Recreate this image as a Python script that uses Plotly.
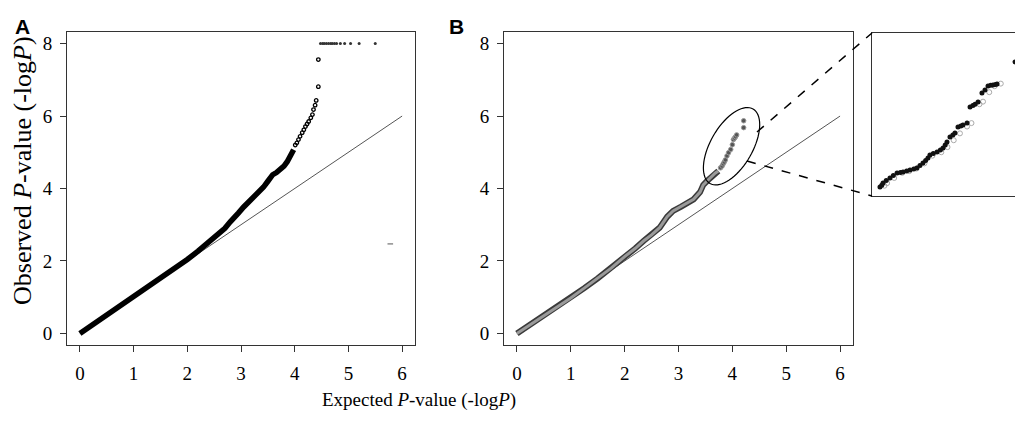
import math
import plotly.graph_objects as go

# page body has an 8px margin: figure is drawn from (8,8)
OFF = 8
W, H = 1015, 418

# ---------------- data ----------------
# Panel A: QQ curve (dense part) and sparse tail
a_curve_x = [0, 0.25, 0.5, 0.75, 1.0, 1.25, 1.5, 1.75, 2.0, 2.2, 2.37, 2.55, 2.7, 2.8, 2.87, 2.95, 3.05, 3.15, 3.24, 3.33, 3.42, 3.5, 3.55, 3.59, 3.66, 3.74, 3.8, 3.86, 3.92, 3.98]
a_curve_y = [0, 0.25, 0.5, 0.76, 1.01, 1.27, 1.53, 1.78, 2.04, 2.27, 2.49, 2.7, 2.9, 3.08, 3.22, 3.32, 3.49, 3.63, 3.77, 3.9, 4.04, 4.2, 4.32, 4.38, 4.44, 4.52, 4.62, 4.74, 4.9, 5.07]
a_tail_x = [4.01, 4.04, 4.07, 4.1, 4.14, 4.17, 4.2, 4.23, 4.26, 4.3, 4.33, 4.35, 4.38, 4.40, 4.44, 4.44]
a_tail_y = [5.2, 5.26, 5.35, 5.44, 5.54, 5.62, 5.71, 5.78, 5.85, 5.95, 6.04, 6.18, 6.3, 6.43, 6.81, 7.56]
a_cap_x = [4.48, 4.52, 4.55, 4.59, 4.63, 4.67, 4.70, 4.74, 4.78, 4.85, 4.93, 5.04, 5.20, 5.50]
a_cap_y = [8, 8, 8, 8, 8, 8, 8, 8, 8, 8, 8, 8, 8, 8]
a_stray_x = [5.78]
a_stray_y = [2.47]

# Panel B: QQ curve and tail
b_curve_x = [0, 0.25, 0.5, 0.75, 1.0, 1.25, 1.5, 1.75, 2.0, 2.2, 2.35, 2.5, 2.65, 2.79, 2.9, 3.05, 3.28, 3.4, 3.46, 3.54, 3.62, 3.68, 3.74]
b_curve_y = [0, 0.24, 0.49, 0.74, 0.98, 1.25, 1.52, 1.8, 2.12, 2.35, 2.55, 2.72, 2.92, 3.22, 3.38, 3.5, 3.7, 3.9, 4.1, 4.22, 4.34, 4.42, 4.48]
b_tail_x = [3.78, 3.81, 3.83, 3.85, 3.87, 3.9, 3.93, 3.97, 4.00, 4.02, 4.04, 4.06, 4.08, 4.21, 4.21]
b_tail_y = [4.57, 4.62, 4.68, 4.73, 4.79, 4.9, 4.99, 5.08, 5.21, 5.35, 5.39, 5.43, 5.48, 5.68, 5.87]

# Inset (zoom of the encircled tail)
inset_x = [3.495, 3.505, 3.512, 3.53, 3.551, 3.57, 3.591, 3.61, 3.625, 3.645, 3.664, 3.685, 3.703, 3.72, 3.737, 3.752,
           3.765, 3.776, 3.795, 3.816, 3.835, 3.85, 3.862, 3.872, 3.889, 3.905, 3.917, 3.934, 3.95, 3.962, 3.985,
           4.002, 4.018, 4.03, 4.047, 4.069, 4.086, 4.103, 4.118, 4.131, 4.145, 4.154, 4.255]
inset_y = [4.155, 4.175, 4.202, 4.23, 4.26, 4.29, 4.318, 4.325, 4.33, 4.342, 4.353, 4.365, 4.376, 4.405, 4.435, 4.465,
           4.493, 4.528, 4.545, 4.563, 4.585, 4.61, 4.645, 4.68, 4.738, 4.76, 4.784, 4.854, 4.866, 4.878, 4.9,
           5.087, 5.105, 5.12, 5.146, 5.25, 5.286, 5.332, 5.34, 5.344, 5.35, 5.356, 5.612]
inset_grey_x = [3.52, 3.535, 3.575, 3.62, 3.66, 3.70, 3.745, 3.79, 3.84, 3.875, 3.91, 3.945, 3.985, 4.01,
                4.055, 4.075, 4.11, 4.14, 4.175, 4.275, 4.283]
inset_grey_y = [4.17, 4.2, 4.26, 4.32, 4.34, 4.37, 4.43, 4.52, 4.56, 4.62, 4.70, 4.78, 4.86, 4.9,
                5.12, 5.15, 5.26, 5.33, 5.36, 5.612, 5.775]

x_ticks = [0, 1, 2, 3, 4, 5, 6]
y_ticks = [0, 2, 4, 6, 8]
ref_line = [0, 6]
x_range = [-0.24, 6.24]
y_range = [-0.32, 8.32]
inset_x_range = [3.45, 4.30]
inset_y_range = [4.05, 5.95]

# ---------------- layout geometry (screen pixels) ----------------
A_L, A_R = 67, 415
B_L, B_R = 504, 853
P_T, P_B = 32, 345
I_L, I_R, I_T, I_B = 872, 1023, 33, 196


def fx(px):
    return (px - OFF) / W


def fy(py):
    return (H - (py - OFF)) / H


SERIF = "Liberation Serif, Times New Roman, serif"
SANS = "Liberation Sans, Arial, sans-serif"

fig = go.Figure()

# Panel A
fig.add_trace(go.Scatter(x=ref_line, y=ref_line, mode="lines", line=dict(color="#555", width=1),
                         xaxis="x", yaxis="y", hoverinfo="skip"))
fig.add_trace(go.Scatter(x=a_curve_x, y=a_curve_y, mode="lines", line=dict(color="black", width=5.5),
                         xaxis="x", yaxis="y"))
fig.add_trace(go.Scatter(x=a_tail_x, y=a_tail_y, mode="markers",
                         marker=dict(symbol="circle-open", size=3.5, color="black", line=dict(width=1.3)),
                         xaxis="x", yaxis="y"))
fig.add_trace(go.Scatter(x=a_cap_x, y=a_cap_y, mode="markers",
                         marker=dict(symbol="circle", size=3, color="#333"),
                         xaxis="x", yaxis="y"))
fig.add_trace(go.Scatter(x=a_stray_x, y=a_stray_y, mode="markers",
                         marker=dict(symbol="line-ew-open", size=4, color="#555", line=dict(width=1)),
                         xaxis="x", yaxis="y"))

# Panel B
fig.add_trace(go.Scatter(x=ref_line, y=ref_line, mode="lines", line=dict(color="#555", width=1),
                         xaxis="x2", yaxis="y2", hoverinfo="skip"))
fig.add_trace(go.Scatter(x=b_curve_x, y=b_curve_y, mode="lines", line=dict(color="#3a3a3a", width=6),
                         xaxis="x2", yaxis="y2"))
fig.add_trace(go.Scatter(x=b_curve_x, y=b_curve_y, mode="lines", line=dict(color="#9a9a9a", width=3),
                         xaxis="x2", yaxis="y2"))
fig.add_trace(go.Scatter(x=b_tail_x, y=b_tail_y, mode="markers",
                         marker=dict(symbol="circle", size=4.5, color="#555", line=dict(color="#999", width=1)),
                         xaxis="x2", yaxis="y2"))

# Inset
fig.add_trace(go.Scatter(x=inset_grey_x, y=inset_grey_y, mode="markers",
                         marker=dict(symbol="circle-open", size=5, color="#aaa", line=dict(width=1)),
                         xaxis="x3", yaxis="y3"))
fig.add_trace(go.Scatter(x=inset_x, y=inset_y, mode="markers",
                         marker=dict(symbol="circle", size=5, color="#111"),
                         xaxis="x3", yaxis="y3"))

axis_common = dict(showgrid=False, zeroline=False, showline=True, mirror=True, linecolor="#333",
                   linewidth=1, ticks="outside", ticklen=6, tickcolor="#333",
                   tickfont=dict(family=SERIF, size=19, color="black"))

fig.update_layout(
    width=W, height=H,
    margin=dict(l=0, r=0, t=0, b=0),
    paper_bgcolor="white", plot_bgcolor="white",
    showlegend=False,
    xaxis=dict(domain=[fx(A_L), fx(A_R)], range=x_range, tickvals=x_ticks, anchor="y",
               ticklabelstandoff=5, **axis_common),
    yaxis=dict(domain=[fy(P_B), fy(P_T)], range=y_range, tickvals=y_ticks, anchor="x",
               ticklabelstandoff=4, **axis_common),
    xaxis2=dict(domain=[fx(B_L), fx(B_R)], range=x_range, tickvals=x_ticks, anchor="y2",
                ticklabelstandoff=5, **axis_common),
    yaxis2=dict(domain=[fy(P_B), fy(P_T)], range=y_range, tickvals=y_ticks, anchor="x2",
                ticklabelstandoff=4, **axis_common),
    xaxis3=dict(domain=[fx(I_L), 1.0], range=inset_x_range, anchor="y3", showgrid=False,
                zeroline=False, showticklabels=False, ticks="", showline=True, mirror=True,
                linecolor="#333", linewidth=1),
    yaxis3=dict(domain=[fy(I_B), fy(I_T)], range=inset_y_range, anchor="x3", showgrid=False,
                zeroline=False, showticklabels=False, ticks="", showline=True, mirror=False,
                linecolor="#333", linewidth=1),
)

# Ellipse around the tail of panel B (drawn in pixel space, converted to data units)
px_per_x = (B_R - B_L) / (x_range[1] - x_range[0])
px_per_y = (P_B - P_T) / (y_range[1] - y_range[0])
e_cx, e_cy = 3.985, 5.166
e_a, e_b, e_theta = 43, 21, math.radians(60)
pts = []
for i in range(73):
    t = 2 * math.pi * i / 72
    dxp = e_a * math.cos(t) * math.cos(e_theta) - e_b * math.sin(t) * math.sin(e_theta)
    dyp = e_a * math.cos(t) * math.sin(e_theta) + e_b * math.sin(t) * math.cos(e_theta)
    pts.append((e_cx + dxp / px_per_x, e_cy + dyp / px_per_y))
path = "M " + " L ".join(f"{x:.4f},{y:.4f}" for x, y in pts) + " Z"
fig.add_shape(type="path", path=path, xref="x2", yref="y2", line=dict(color="black", width=1.2))

# Dashed connectors to inset
fig.add_shape(type="line", xref="paper", yref="paper", x0=fx(757), y0=fy(132), x1=fx(I_L), y1=fy(I_T),
              line=dict(color="black", width=1.5, dash="dash"))
fig.add_shape(type="line", xref="paper", yref="paper", x0=fx(747), y0=fy(161), x1=fx(I_L), y1=fy(I_B),
              line=dict(color="black", width=1.5, dash="dash"))

# Text
fig.add_annotation(text="<b>A</b>", x=fx(22), y=fy(26), xref="paper", yref="paper", showarrow=False,
                   font=dict(family=SANS, size=21, color="black"), xanchor="center", yanchor="middle")
fig.add_annotation(text="<b>B</b>", x=fx(456), y=fy(26), xref="paper", yref="paper", showarrow=False,
                   font=dict(family=SANS, size=21, color="black"), xanchor="center", yanchor="middle")
fig.add_annotation(text="Expected <i>P</i>-value (-log<i>P</i>)", x=fx(419), y=fy(400), xref="paper",
                   yref="paper", showarrow=False, font=dict(family=SERIF, size=19, color="black"),
                   xanchor="center", yanchor="middle")
fig.add_annotation(text="Observed <i>P</i>-value (-log<i>P</i>)", x=fx(22), y=fy(171), xref="paper",
                   yref="paper", showarrow=False, textangle=-90,
                   font=dict(family=SERIF, size=26, color="black"), xanchor="center", yanchor="middle")

fig.write_html("out.html")
